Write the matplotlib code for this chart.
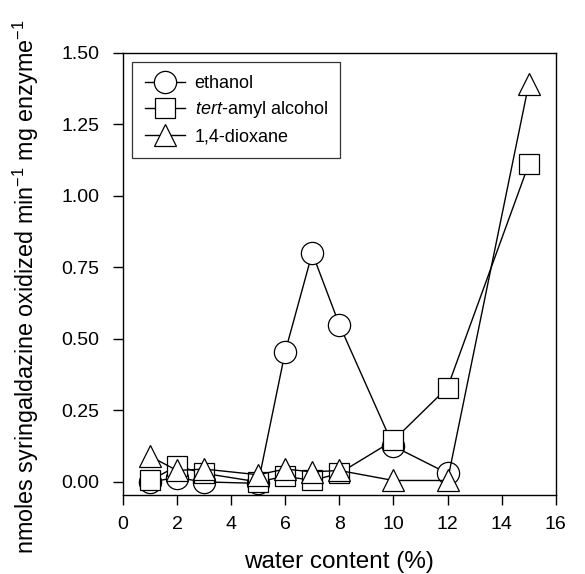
import numpy as np
import matplotlib.pyplot as plt

plt.rcParams['font.family'] = ['Liberation Sans', 'DejaVu Sans']
plt.rcParams['mathtext.fontset'] = 'custom'
plt.rcParams['mathtext.rm'] = 'Liberation Sans'
plt.rcParams['mathtext.it'] = 'Liberation Sans:italic'

# water content (%)
x_eth = [1, 2, 3, 5, 6, 7, 8, 10, 12]
y_eth = [0.0, 0.015, 0.0, -0.005, 0.455, 0.80, 0.55, 0.125, 0.03]

x_tam = [1, 2, 3, 5, 6, 7, 8, 10, 12, 15]
y_tam = [0.005, 0.055, 0.03, 0.0, 0.02, 0.005, 0.03, 0.145, 0.33, 1.11]

x_dio = [1, 2, 3, 5, 6, 7, 8, 10, 12, 15]
y_dio = [0.09, 0.04, 0.045, 0.025, 0.045, 0.035, 0.04, 0.005, 0.005, 1.39]

fig = plt.figure(figsize=(5.85, 5.74), dpi=100)
ax = fig.add_axes([0.210, 0.138, 0.740, 0.770])

common = dict(color='black', lw=1.0, mfc='white', mec='black', mew=0.9)
ax.plot(x_eth, y_eth, marker='o', ms=16, label='ethanol', zorder=3, **common)
ax.plot(x_tam, y_tam, marker='s', ms=15, label='$\\mathit{tert}$-amyl alcohol', zorder=3, **common)
ax.plot(x_dio, y_dio, marker='^', ms=16, label='1,4-dioxane', zorder=3, **common)

ax.set_xlim(0, 16)
ax.set_ylim(-0.045, 1.5)
ax.set_xticks(np.arange(0, 17, 2))
ax.set_yticks([0, 0.25, 0.5, 0.75, 1.0, 1.25, 1.5])
ax.set_yticklabels(['0.00', '0.25', '0.50', '0.75', '1.00', '1.25', '1.50'])
ax.tick_params(direction='out', length=7, width=1, labelsize=14)
ax.tick_params(axis='y', pad=10)
ax.tick_params(axis='x', pad=8)
for s in ax.spines.values():
    s.set_linewidth(1.0)

ax.set_xlabel('water content (%)', fontsize=17.5)
ax.xaxis.set_label_coords(0.5, -0.128)
ax.set_ylabel('nmoles syringaldazine oxidized min$^{\\mathrm{-1}}$ mg enzyme$^{\\mathrm{-1}}$', fontsize=16.8)
ax.yaxis.set_label_coords(-0.19, 0.47)

leg = ax.legend(loc='upper left', fontsize=13, frameon=True, fancybox=False,
                edgecolor='black', handlelength=2.2, borderpad=0.72,
                labelspacing=0.42, handletextpad=0.55, borderaxespad=0.5)
leg.get_frame().set_linewidth(0.9)

fig.savefig('out.png', dpi=100)
